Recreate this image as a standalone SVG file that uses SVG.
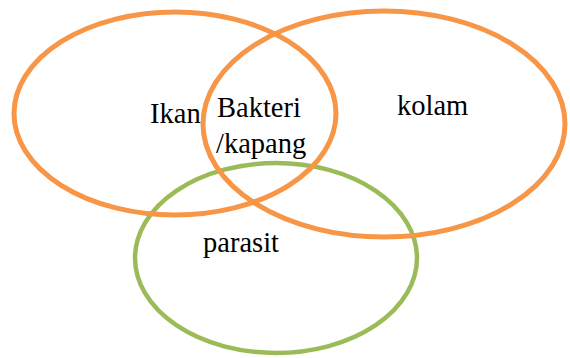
<svg xmlns="http://www.w3.org/2000/svg" width="570" height="358" viewBox="0 0 570 358">
<style>
.o{fill:none;stroke:#F79646;stroke-width:5}
.g{fill:none;stroke:#9BBB59;stroke-width:4.5}
.t{font-family:'Liberation Serif','Times New Roman',serif;font-size:28.5px;fill:#000}
</style>
<rect width="570" height="358" fill="#fff"/>
<g id="parasit"><ellipse class="g" cx="276" cy="258" rx="141" ry="95"/></g>
<g id="ikan"><ellipse class="o" cx="175" cy="113.5" rx="161" ry="101.5"/></g>
<g id="kolam"><ellipse class="o" cx="384" cy="124" rx="181" ry="113"/></g>
<g id="labels">
<text class="t" x="150" y="123">Ikan</text>
<text class="t" x="217" y="117">Bakteri</text>
<text class="t" x="216" y="153">/kapang</text>
<text class="t" x="397" y="115">kolam</text>
<text class="t" x="203" y="252">parasit</text>
</g>
</svg>
